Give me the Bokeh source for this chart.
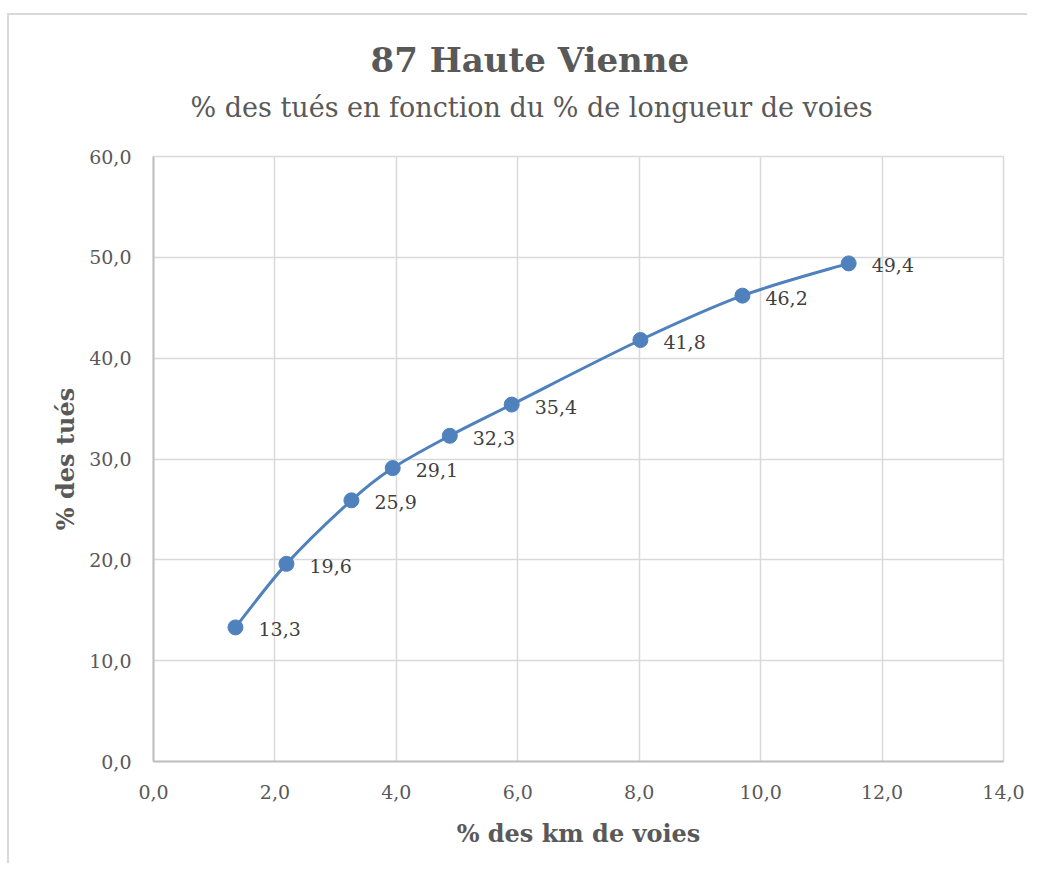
from bokeh.plotting import figure
from bokeh.models import (Range1d, Title, ColumnDataSource, CustomJSTickFormatter,
                          FixedTicker, LabelSet)
from bokeh.embed import file_html
from bokeh.resources import INLINE
from bokeh.core.properties import value

# ---- data ----
pct_km = [1.35, 2.19, 3.26, 3.94, 4.88, 5.90, 8.02, 9.70, 11.45]
pct_tues = [13.3, 19.6, 25.9, 29.1, 32.3, 35.4, 41.8, 46.2, 49.4]
x_ticks = [0, 2, 4, 6, 8, 10, 12, 14]
y_ticks = [0, 10, 20, 30, 40, 50, 60]
title_text = "87 Haute Vienne"
subtitle_text = "% des tués en fonction du % de longueur de voies"
x_label = "% des km de voies"
y_label = "% des tués"

FONT = "DejaVu Serif"
BLUE = "#4f81bd"

p = figure(width=1020, height=850, x_range=Range1d(0, 14), y_range=Range1d(0, 60),
           output_backend="svg", toolbar_location=None,
           min_border_left=144, min_border_right=26, min_border_top=141,
           min_border_bottom=104)
p.styles = {"border-left": "2px solid #d9d9d9", "border-top": "2px solid #d9d9d9",
            "margin-top": "13px", "margin-left": "7px"}
p.background_fill_color = "white"
p.border_fill_color = "white"
p.outline_line_color = "#d9d9d9"
p.outline_line_width = 1.5

# titles centred on the whole chart area: left-aligned with an offset from the frame
sub = Title(text=subtitle_text, align="left", offset=37, text_font=FONT,
            text_font_size="27px", text_font_style="normal", text_color="#595959",
            standoff=67)
main = Title(text=title_text, align="left", offset=217, text_font=FONT,
             text_font_size="34px", text_font_style="bold", text_color="#595959",
             standoff=-47)
p.add_layout(sub, "above")
p.add_layout(main, "above")

fmt = CustomJSTickFormatter(code="return tick.toFixed(1).replace('.', ',');")
for ax, ticks in ((p.xaxis, x_ticks), (p.yaxis, y_ticks)):
    ax.ticker = FixedTicker(ticks=ticks)
    ax.formatter = fmt
    ax.major_tick_line_color = None
    ax.minor_tick_line_color = None
    ax.major_tick_out = 0
    ax.major_tick_in = 0
    ax.axis_line_color = "#bfbfbf"
    ax.axis_line_width = 2
    ax.major_label_text_font = FONT
    ax.major_label_text_font_size = "19px"
    ax.major_label_text_color = "#595959"
    ax.axis_label_text_font = FONT
    ax.axis_label_text_font_size = "24px"
    ax.axis_label_text_font_style = "bold"
    ax.axis_label_text_color = "#595959"

p.xaxis.axis_label = x_label
p.yaxis.axis_label = y_label
p.xaxis.major_label_standoff = 23
p.yaxis.major_label_standoff = 22
p.xaxis.axis_label_standoff = 17
p.yaxis.axis_label_standoff = 6

p.grid.grid_line_color = "#d9d9d9"
p.grid.grid_line_width = 1.5
p.xgrid.ticker = FixedTicker(ticks=x_ticks)
p.ygrid.ticker = FixedTicker(ticks=y_ticks)

# smoothed line (Bezier segments through the data points)
n = len(pct_km)
x0, y0, x1, y1, cx0, cy0, cx1, cy1 = [], [], [], [], [], [], [], []
for i in range(n - 1):
    pr = max(i - 1, 0)
    nx = min(i + 2, n - 1)
    x0.append(pct_km[i]); y0.append(pct_tues[i])
    x1.append(pct_km[i + 1]); y1.append(pct_tues[i + 1])
    cx0.append(pct_km[i] + (pct_km[i + 1] - pct_km[pr]) / 6)
    cy0.append(pct_tues[i] + (pct_tues[i + 1] - pct_tues[pr]) / 6)
    cx1.append(pct_km[i + 1] - (pct_km[nx] - pct_km[i]) / 6)
    cy1.append(pct_tues[i + 1] - (pct_tues[nx] - pct_tues[i]) / 6)
p.bezier(x0=x0, y0=y0, x1=x1, y1=y1, cx0=cx0, cy0=cy0, cx1=cx1, cy1=cy1,
         line_color=BLUE, line_width=3)

src = ColumnDataSource(dict(x=pct_km, y=pct_tues,
                            lab=[f"{v:.1f}".replace(".", ",") for v in pct_tues]))
p.scatter("x", "y", source=src, size=15, fill_color=BLUE, line_color=BLUE)
labels = LabelSet(x="x", y="y", text="lab", source=src, x_offset=23, y_offset=-2,
                  text_baseline="middle", text_align="left",
                  text_font=value(FONT), text_font_size="19px", text_color="#404040")
p.add_layout(labels)

open("out.html", "w").write(file_html(p, INLINE))
